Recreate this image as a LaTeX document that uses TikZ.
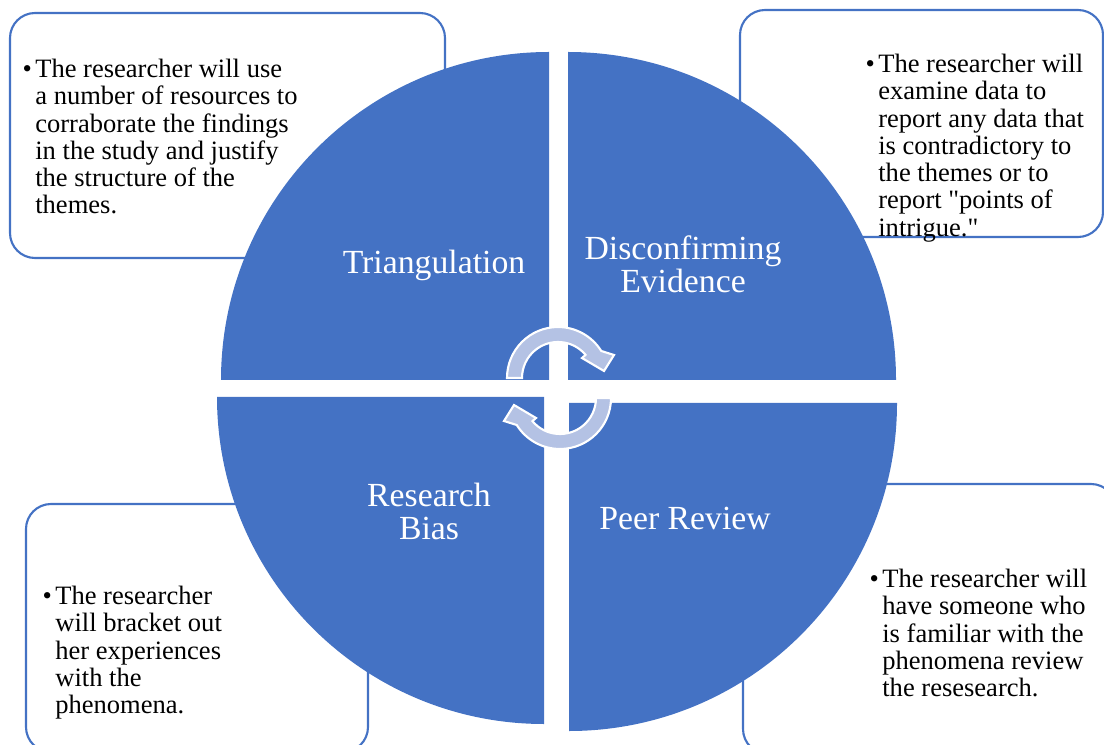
\documentclass[tikz,border=0pt]{standalone}
\usepackage{fontspec}
\setmainfont{Liberation Serif}
\newfontfamily\rawserif{Liberation Serif}
\usepackage{tikz}
\definecolor{cycBlue}{RGB}{68,114,196}
\definecolor{cycArrow}{RGB}{180,194,228}
\tikzstyle{noteBox} = [draw=cycBlue, line width=1.2pt, rounded corners=0.5cm, fill=white]
\tikzstyle{quad} = [fill=cycBlue]
\tikzstyle{quadLabel} = [text=white, align=center, inner sep=0pt, font=\fontsize{19.2}{18.8}\selectfont]
\tikzstyle{noteText} = [anchor=north west, inner sep=0pt, align=left, font=\fontsize{15.1}{15.5}\selectfont]
\tikzstyle{cycArrowStyle} = [fill=cycArrow, draw=white, line width=1.2pt]
\newcommand{\bul}{\llap{\textbullet\kern2pt}}
\newcommand{\dq}{{\rawserif"}}

\begin{document}
\begin{tikzpicture}[x=0.02cm, y=0.02cm]
        \useasboundingbox (0,0) rectangle (1104,744);

        % Note boxes
        \draw [noteBox] (10,486) rectangle (445,731);
        \draw [noteBox] (740,507) rectangle (1103,734);
        \draw [noteBox] (26,-8) rectangle (368,240);
        \draw [noteBox] (743,-10) rectangle (1116,260);

        % Quarter discs
        \fill [quad] (549,364) -- ++(-328,0) arc[start angle=180, end angle=90, radius=328] -- cycle;
        \fill [quad] (568,364) -- ++(0,328) arc[start angle=90, end angle=0, radius=328] -- cycle;
        \fill [quad] (544,347) -- ++(-327,0) arc[start angle=180, end angle=270, radius=327] -- cycle;
        \fill [quad] (569,341) -- ++(328,0) arc[start angle=0, end angle=-90, radius=328] -- cycle;

        % Labels
        \node [quadLabel] (tri) at (434,479) {Triangulation};
        \node [quadLabel] (dis) at (683,480) {Disconfirming\\Evidence};
        \node [quadLabel] (bias) at (429,233) {Research\\Bias};
        \node [quadLabel] (peer) at (685,226) {Peer Review};

        % Notes
        \node [noteText] (triNote) at (35,685) {\bul The researcher will use\\a number of resources to\\corraborate the findings\\in the study and justify\\the structure of the\\themes.};
        \node [noteText] (disNote) at (878,690) {\bul The researcher will\\examine data to\\report any data that\\is contradictory to\\the themes or to\\report \dq points of\\intrigue.\dq};
        \node [noteText] (biasNote) at (55,158) {\bul The researcher\\will bracket out\\her experiences\\with the\\phenomena.};
        \node [noteText] (peerNote) at (882,175) {\bul The researcher will\\have someone who\\is familiar with the\\phenomena review\\the resesearch.};

        % Cycle arrows
        \foreach \cx/\cy/\rot in {558/366/0, 560/346/180}
            \fill [cycArrowStyle, shift={(\cx,\cy)}, rotate=\rot] (180:51) arc[start angle=180, end angle=32, radius=51]
                -- (56,23) -- (46,7) -- (24,20) -- (40:36) arc[start angle=40, end angle=180, radius=36] -- cycle;
    \end{tikzpicture}
\end{document}
